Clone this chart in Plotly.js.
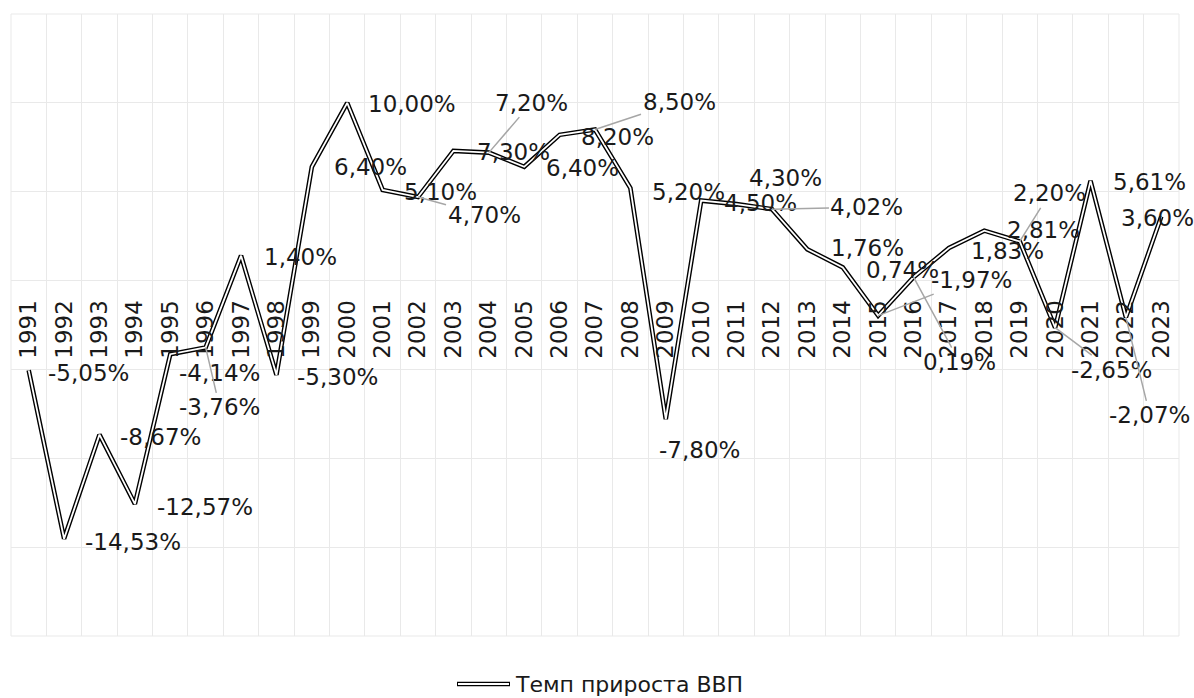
<!DOCTYPE html>
<html>
<head>
<meta charset="utf-8">
<script src="https://cdn.plot.ly/plotly-3.0.1.min.js"></script>
<style>html,body{margin:0;padding:0;background:#fff;}#chart{width:1194px;height:698px;}</style>
</head>
<body>
<div id="chart"></div>
<script>
// ---- data ----
const years = ['1991','1992','1993','1994','1995','1996','1997','1998','1999','2000','2001','2002','2003','2004','2005','2006','2007','2008','2009','2010','2011','2012','2013','2014','2015','2016','2017','2018','2019','2020','2021','2022','2023'];
const growth = [-5.05,-14.53,-8.67,-12.57,-4.14,-3.76,1.40,-5.30,6.40,10.00,5.10,4.70,7.30,7.20,6.40,8.20,8.50,5.20,-7.80,4.50,4.30,4.02,1.76,0.74,-1.97,0.19,1.83,2.81,2.20,-2.65,5.61,-2.07,3.60];
const seriesName = 'Темп прироста ВВП';

// ---- label placement (pixel offsets of label centre from its point; leader flag) ----
const labelOffsets = [
  [60,3,0],[69,3,0],[61,2,0],[70,3,0],[49,19,0],[14,60,1],[59,1,0],[61,2,0],[59,0,0],[65,1,0],
  [58,2,0],[66,18,1],[60,1,0],[43,-50,1],[58,1,0],[58,2,0],[84,-28,1],[58,4,0],[34,31,0],[59,2,0],
  [49,-26,0],[95,-2,1],[60,-1,0],[60,3,0],[93,-36,1],[46,85,1],[59,3,0],[59,-1,0],[30,-48,1],[56,42,1],
  [59,1,0],[24,98,1],[-4,1,0]
];

const FONT = 'DejaVu Sans, Liberation Sans, Arial, sans-serif';
const GRID = '#e9e9e9';
const fmt = v => v.toFixed(2).replace('.', ',') + '%';

const traces = [
  {x: years, y: growth, type: 'scatter', mode: 'lines', name: seriesName,
   line: {color: '#000', width: 4.6}, showlegend: false, hoverinfo: 'skip'},
  {x: years, y: growth, type: 'scatter', mode: 'lines', name: seriesName,
   line: {color: '#fff', width: 1.8}, showlegend: false, hoverinfo: 'skip'}
];

// category axis: annotations addressed by category index
const annotations = years.map((yr, i) => ({
  x: i, y: growth[i], xref: 'x', yref: 'y',
  text: fmt(growth[i]),
  showarrow: true, arrowhead: 0, standoff: 0, arrowwidth: 1.5,
  arrowcolor: labelOffsets[i][2] ? '#a6a6a6' : 'rgba(0,0,0,0)',
  ax: labelOffsets[i][0], ay: labelOffsets[i][1],
  font: {family: FONT, size: 23, color: '#1a1a1a'}
}));

// manual legend text
annotations.push({
  xref: 'paper', yref: 'paper', x: (513 - 11) / 1168, y: (636 - 684) / 622,
  xanchor: 'left', yanchor: 'middle', showarrow: false, text: seriesName,
  font: {family: FONT, size: 22, color: '#1a1a1a'}
});

const shapes = [
  {type: 'rect', xref: 'paper', yref: 'paper', x0: 0, x1: 1, y0: 0, y1: 1,
   line: {color: GRID, width: 1}, layer: 'below'},
  {type: 'line', xref: 'paper', yref: 'paper', x0: (457 - 11) / 1168, x1: (510 - 11) / 1168,
   y0: (636 - 684) / 622, y1: (636 - 684) / 622, line: {color: '#000', width: 4.6}},
  {type: 'line', xref: 'paper', yref: 'paper', x0: (458 - 11) / 1168, x1: (509 - 11) / 1168,
   y0: (636 - 684) / 622, y1: (636 - 684) / 622, line: {color: '#fff', width: 1.8}}
];

const layout = {
  width: 1194, height: 698,
  margin: {l: 11, r: 15, t: 14, b: 62},
  paper_bgcolor: '#fff', plot_bgcolor: '#fff',
  showlegend: false,
  font: {family: FONT, color: '#1a1a1a'},
  xaxis: {
    type: 'category', tickson: 'boundaries', showgrid: true, gridcolor: GRID, gridwidth: 1,
    anchor: 'free', position: 20 / 35, tickangle: -90, ticks: '', ticklabelstandoff: 14,
    tickfont: {family: FONT, size: 23, color: '#1a1a1a'},
    zeroline: false, showline: false, range: [-0.5, 32.5], fixedrange: true
  },
  yaxis: {
    range: [-20, 15], dtick: 5, tick0: 0, showticklabels: false, showgrid: true,
    gridcolor: GRID, gridwidth: 1, zeroline: false, ticks: '', fixedrange: true
  },
  annotations: annotations,
  shapes: shapes
};

Plotly.newPlot('chart', traces, layout, {displayModeBar: false, staticPlot: true});
</script>
</body>
</html>
